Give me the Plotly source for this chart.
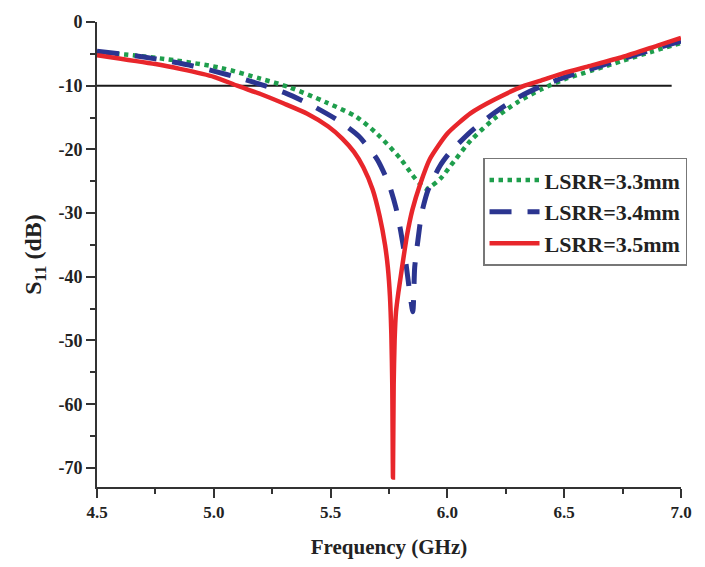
import plotly.graph_objects as go

# LSRR = 3.3 mm (green dotted)
f_33 = [4.50, 4.62, 4.83, 5.03, 5.20, 5.32, 5.48, 5.61, 5.70, 5.80, 5.85, 5.88, 5.91, 5.93, 5.97, 6.03, 6.10, 6.20, 6.30, 6.40, 6.50, 6.62, 6.75, 6.88, 7.00]
s_33 = [-4.8, -5.1, -6.0, -7.2, -8.9, -10.2, -12.6, -14.9, -17.6, -21.5, -24.0, -25.3, -26.2, -25.8, -24.6, -21.8, -18.6, -15.2, -12.6, -10.6, -9.0, -7.6, -6.1, -4.6, -3.3]

# LSRR = 3.4 mm (blue dashed)
f_34 = [4.50, 4.60, 4.70, 4.80, 4.91, 5.00, 5.11, 5.21, 5.31, 5.41, 5.53, 5.62, 5.70, 5.75, 5.78, 5.80, 5.82, 5.83, 5.84, 5.852, 5.86, 5.874, 5.89, 5.917, 5.968, 6.01, 6.10, 6.20, 6.30, 6.40, 6.50, 6.62, 6.75, 6.88, 7.00]
s_34 = [-4.6, -5.0, -5.5, -6.1, -6.9, -7.7, -8.8, -9.9, -11.2, -12.9, -15.4, -17.9, -21.6, -25.5, -29.2, -32.8, -37.2, -40.0, -42.8, -45.5, -38.5, -34.2, -30.0, -26.4, -22.6, -20.5, -17.2, -14.3, -11.9, -10.1, -8.7, -7.3, -5.8, -4.3, -3.0]

# LSRR = 3.5 mm (red solid)
f_35 = [4.50, 4.75, 4.86, 5.00, 5.10, 5.20, 5.30, 5.40, 5.49, 5.55, 5.60, 5.64, 5.68, 5.71, 5.733, 5.745, 5.754, 5.760, 5.764, 5.767, 5.770, 5.774, 5.780, 5.790, 5.80, 5.81, 5.827, 5.85, 5.883, 5.925, 6.00, 6.10, 6.20, 6.33, 6.40, 6.50, 6.60, 6.75, 6.90, 7.00]
s_35 = [-5.2, -6.6, -7.4, -8.6, -10.0, -11.3, -12.8, -14.4, -16.4, -18.3, -20.4, -22.8, -26.3, -30.5, -35.0, -38.5, -43.0, -49.0, -57.0, -71.5, -57.0, -50.0, -45.5, -42.5, -40.0, -37.5, -33.5, -29.5, -25.5, -21.5, -17.5, -14.3, -12.2, -10.0, -9.2, -8.0, -7.0, -5.5, -3.7, -2.5]

# -10 dB reference line
ref_f = [4.5, 6.96]
ref_s = [-10, -10]

x_ticks = [4.5, 5.0, 5.5, 6.0, 6.5, 7.0]
x_labels = ["4.5", "5.0", "5.5", "6.0", "6.5", "7.0"]
y_ticks = [0, -10, -20, -30, -40, -50, -60, -70]
y_labels = ["0", "-10", "-20", "-30", "-40", "-50", "-60", "-70"]

FONT = "Liberation Serif, Times New Roman, serif"

fig = go.Figure()
fig.add_trace(go.Scatter(x=ref_f, y=ref_s, mode="lines", line=dict(color="#1a1a1a", width=2), showlegend=False, hoverinfo="skip"))
fig.add_trace(go.Scatter(x=f_33, y=s_33, mode="lines", name="LSRR=3.3mm",
                         line=dict(color="#1e9e4c", width=4.5, dash="dot", shape="spline", smoothing=0.8)))
fig.add_trace(go.Scatter(x=f_34, y=s_34, mode="lines", name="LSRR=3.4mm",
                         line=dict(color="#2b3590", width=5, dash="22px,16px", shape="spline", smoothing=0.6)))
fig.add_trace(go.Scatter(x=f_35, y=s_35, mode="lines", name="LSRR=3.5mm",
                         line=dict(color="#e8262b", width=4.5, shape="spline", smoothing=0.6)))

fig.update_layout(
    width=705, height=567,
    margin=dict(l=97, r=24, t=15, b=79),
    paper_bgcolor="white", plot_bgcolor="white",
    font=dict(family=FONT, color="#222222"),
    legend=dict(x=0.661, y=0.708, xanchor="left", yanchor="top",
                bgcolor="white", bordercolor="#777777", borderwidth=1.5,
                font=dict(family=FONT, size=22, color="#222222", weight="bold"),
                itemwidth=50, tracegroupgap=2),
    xaxis=dict(range=[4.5, 7.0], tickvals=x_ticks, ticktext=x_labels,
               showgrid=False, zeroline=False, showline=True, linecolor="#333333", linewidth=2,
               ticks="outside", ticklen=9, tickwidth=2, tickcolor="#333333",
               minor=dict(dtick=0.25, ticks="outside", ticklen=5, tickwidth=2, tickcolor="#333333"),
               tickfont=dict(family=FONT, size=17, color="#222222", weight="bold"),
               title=dict(text="Frequency (GHz)", standoff=18,
                          font=dict(family=FONT, size=21, color="#222222", weight="bold"))),
    yaxis=dict(range=[-73, 0], tickvals=y_ticks, ticktext=y_labels,
               showgrid=False, zeroline=False, showline=True, linecolor="#333333", linewidth=2,
               ticks="outside", ticklen=9, tickwidth=2, tickcolor="#333333",
               minor=dict(dtick=5, ticks="outside", ticklen=5, tickwidth=2, tickcolor="#333333"),
               tickfont=dict(family=FONT, size=18, color="#222222", weight="bold"),
               title=dict(text="S<sub>11</sub> (dB)", standoff=10,
                          font=dict(family=FONT, size=24, color="#222222", weight="bold"))),
)

fig.write_html("out.html")
